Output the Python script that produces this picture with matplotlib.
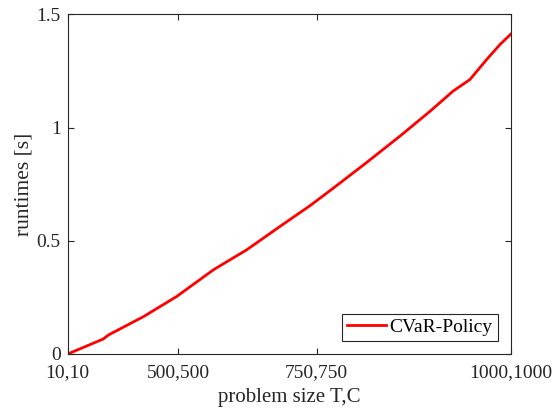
import matplotlib
matplotlib.use("Agg")
import matplotlib.pyplot as plt

# problem size axis is an index scaled to [0, 1]; labels sit at these spots
tick_pos = [0.0, 0.25, 0.562, 1.0]
tick_labels = ["10,10", "500,500", "750,750", "1000,1000"]

# runtime curve
size_idx = [0.0, 0.080, 0.092, 0.171, 0.246, 0.329, 0.404, 0.479, 0.547,
            0.600, 0.675, 0.750, 0.818, 0.870, 0.908, 0.946, 0.976, 1.0]
runtimes = [0.0, 0.066, 0.084, 0.165, 0.254, 0.372, 0.460, 0.563, 0.655,
            0.733, 0.846, 0.962, 1.072, 1.161, 1.212, 1.301, 1.367, 1.412]

plt.rcParams["font.family"] = ["Liberation Serif", "DejaVu Serif"]
dark = "#262626"

fig = plt.figure(figsize=(5.52, 4.12), dpi=100)
ax = fig.add_axes([0.1227, 0.1408, 0.8025, 0.8245])

ax.plot(size_idx, runtimes, color="red", lw=2, label="CVaR-Policy")

ax.set_xlim(0, 1)
ax.set_ylim(0, 1.5)
ax.set_xticks(tick_pos)
ax.set_xticklabels(tick_labels)
ax.set_yticks([0, 0.5, 1, 1.5])
ax.set_yticklabels(["0", "0.5", "1", "1.5"])

ax.tick_params(direction="in", top=True, right=True, length=4, width=0.8,
               labelsize=14, colors=dark)
ax.tick_params(axis="x", pad=7.5)
ax.tick_params(axis="y", pad=5)
for s in ax.spines.values():
    s.set_color(dark)
    s.set_linewidth(0.8)

ax.set_xlabel("problem size T,C", fontsize=15, color=dark, labelpad=5)
ax.set_ylabel("runtimes [s]", fontsize=15.5, color=dark, labelpad=2)

leg = ax.legend(loc="lower right", fontsize=14, fancybox=False,
                framealpha=1, borderpad=0.25, handlelength=2.0,
                handletextpad=0.2, borderaxespad=0.67)
leg.get_frame().set_edgecolor(dark)
leg.get_frame().set_linewidth(0.8)

fig.savefig("out.png", dpi=100)
